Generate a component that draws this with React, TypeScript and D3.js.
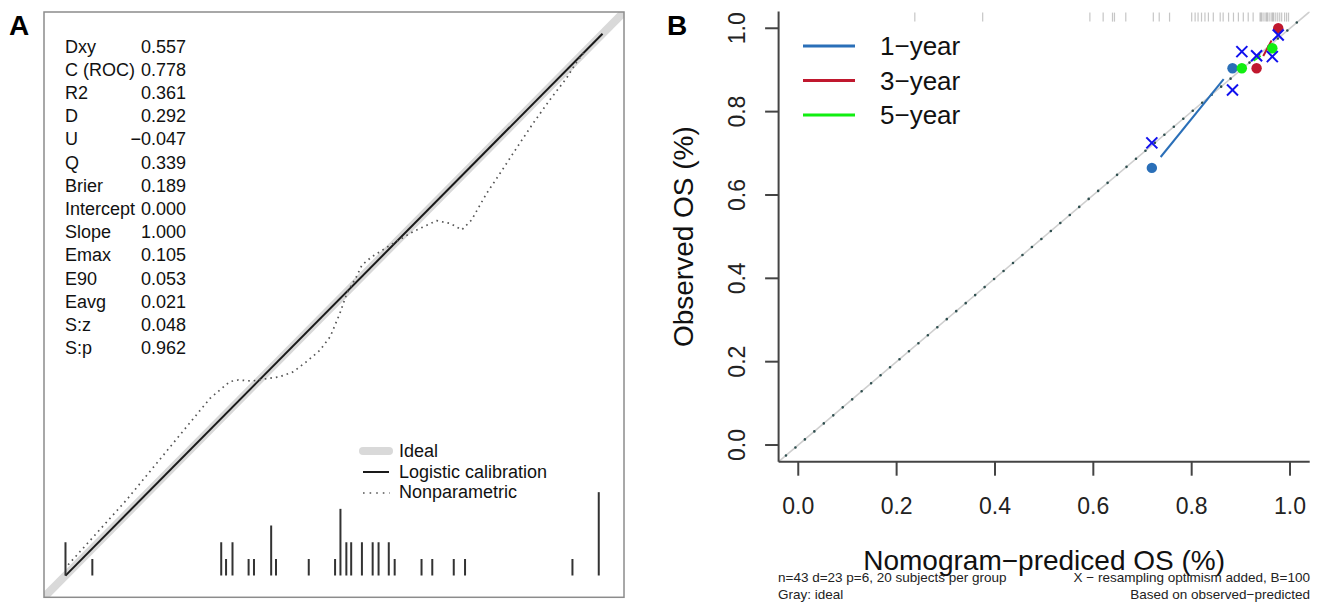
import React from 'react';
import * as d3 from 'd3';

// ---------- Panel A data ----------
const statLabels = ['Dxy', 'C (ROC)', 'R2', 'D', 'U', 'Q', 'Brier', 'Intercept', 'Slope', 'Emax', 'E90', 'Eavg', 'S:z', 'S:p'];
const statValues = ['0.557', '0.778', '0.361', '0.292', '\u22120.047', '0.339', '0.189', '0.000', '1.000', '0.105', '0.053', '0.021', '0.048', '0.962'];

const spikeX = [0.0, 0.05, 0.29, 0.299, 0.311, 0.341, 0.351, 0.383, 0.392, 0.453, 0.502, 0.512, 0.523, 0.532, 0.552, 0.572, 0.583, 0.602, 0.613, 0.663, 0.683, 0.723, 0.744, 0.944, 0.993];
const spikeCount = [2, 1, 2, 1, 2, 1, 1, 3, 1, 1, 1, 4, 2, 2, 2, 2, 2, 2, 1, 1, 1, 1, 1, 1, 5];

const npX = [0.005, 0.114, 0.269, 0.306, 0.322, 0.347, 0.365, 0.399, 0.424, 0.449, 0.474, 0.493, 0.511, 0.524, 0.542, 0.552, 0.570, 0.586, 0.610, 0.648, 0.691, 0.716, 0.738, 0.756, 0.784, 0.809, 0.840, 0.871, 0.902, 0.933, 0.952, 0.967];
const npY = [0.020, 0.140, 0.327, 0.358, 0.361, 0.359, 0.362, 0.367, 0.376, 0.395, 0.416, 0.441, 0.484, 0.521, 0.552, 0.573, 0.588, 0.598, 0.613, 0.635, 0.655, 0.650, 0.638, 0.656, 0.705, 0.742, 0.789, 0.835, 0.878, 0.918, 0.948, 0.967];

const logisticX = [0, 1];
const logisticY = [0, 1];
const idealX = [-0.04, 1.04];

const legendA = ['Ideal', 'Logistic calibration', 'Nonparametric'];

// ---------- Panel B data ----------
const rugPred = [0.237, 0.375, 0.593, 0.620, 0.639, 0.643, 0.666, 0.722, 0.734, 0.755, 0.800, 0.807, 0.813, 0.820, 0.827, 0.834, 0.844, 0.858, 0.864, 0.875, 0.885, 0.895, 0.905, 0.915, 0.925, 0.939, 0.941, 0.943, 0.947, 0.951, 0.953, 0.955, 0.959, 0.963, 0.965, 0.967, 0.971, 0.975, 0.979, 0.983, 0.989, 0.993, 0.997];

const seriesNames = ['1\u2212year', '3\u2212year', '5\u2212year'];
const seriesColors = ['#2a6fb8', '#c0182e', '#11ee11'];
const predicted1 = [0.719, 0.883];
const observed1 = [0.665, 0.904];
const corrected1 = [0.725, 0.852];
const predicted3 = [0.932, 0.976];
const observed3 = [0.904, 1.0];
const corrected3 = [0.934, 0.984];
const predicted5 = [0.902, 0.964];
const observed5 = [0.904, 0.952];
const corrected5 = [0.944, 0.932];

const tickValsB = [0, 0.2, 0.4, 0.6, 0.8, 1.0];
const tickLabelsB = ['0.0', '0.2', '0.4', '0.6', '0.8', '1.0'];

const FONT = 'Arial, "Liberation Sans", Helvetica, sans-serif';

export default function App() {
  // Panel A scales
  const xA = d3.scaleLinear().domain([-0.04, 1.04]).range([44, 624]);
  const yA = d3.scaleLinear().domain([-0.04, 1.04]).range([597.3, 12]);
  const hA = d3.scaleLinear().domain([0, 5]).range([0, 0.154]);

  // Panel B scales
  const xB = d3.scaleLinear().domain([-0.04, 1.04]).range([778.6, 1309.7]);
  const yB = d3.scaleLinear().domain([-0.04, 1.04]).range([461.7, 11.6]);

  const lineA = d3.line<[number, number]>().x(d => xA(d[0])).y(d => yA(d[1]));
  const npPath = lineA(npX.map((x, i) => [x, npY[i]]) as [number, number][]) || '';
  const logPath = lineA(logisticX.map((x, i) => [x, logisticY[i]]) as [number, number][]) || '';
  const idealPathA = lineA(idealX.map(x => [x, x]) as [number, number][]) || '';

  const lineB = d3.line<[number, number]>().x(d => xB(d[0])).y(d => yB(d[1]));
  const idealPathB = lineB([[-0.04, -0.04], [1.04, 1.04]]) || '';
  const dotPathB = lineB([[-0.025, -0.025], [1.03, 1.03]]) || '';

  const series = [
    { pred: predicted1, obs: observed1, cor: corrected1 },
    { pred: predicted3, obs: observed3, cor: corrected3 },
    { pred: predicted5, obs: observed5, cor: corrected5 },
  ];

  const gap = 14;
  const statY0 = 52.5;
  const statDy = 23.2;

  return (
    <svg width={1317} height={603} style={{ position: 'absolute', left: 0, top: 0, background: '#fff' }} fontFamily={FONT}>
      <defs>
        <clipPath id="clipA">
          <rect x={44} y={12} width={580} height={585.3} />
        </clipPath>
        <clipPath id="clipB">
          <rect x={778.6} y={11.6} width={531.1} height={450.1} />
        </clipPath>
      </defs>

      {/* ================= Panel A ================= */}
      <text x={9} y={35} fontSize={28} fontWeight="bold" fill="#000">A</text>
      <g clipPath="url(#clipA)">
        <path d={idealPathA} stroke="#d9d9d9" strokeWidth={8} fill="none" />
        <path d={logPath} stroke="#1a1a1a" strokeWidth={2} fill="none" />
        <path d={npPath} stroke="#555" strokeWidth={1.7} strokeDasharray="1.6,4" fill="none" />
        {spikeX.map((x, i) => (
          <line key={i} x1={xA(x)} x2={xA(x)} y1={yA(0)} y2={yA(hA(spikeCount[i]))} stroke="#333" strokeWidth={2} />
        ))}
      </g>
      <rect x={44} y={12} width={580} height={585.3} fill="none" stroke="#8c8c8c" strokeWidth={1.5} />

      {statLabels.map((s, i) => (
        <g key={s}>
          <text x={65} y={statY0 + i * statDy} fontSize={18} fill="#111">{s}</text>
          <text x={186} y={statY0 + i * statDy} fontSize={18} fill="#111" textAnchor="end">{statValues[i]}</text>
        </g>
      ))}

      {/* legend A */}
      <line x1={363} x2={389} y1={451} y2={451} stroke="#d9d9d9" strokeWidth={8} strokeLinecap="round" />
      <line x1={363} x2={389} y1={472} y2={472} stroke="#1a1a1a" strokeWidth={2} />
      <line x1={363} x2={390} y1={493} y2={493} stroke="#555" strokeWidth={1.7} strokeDasharray="1.6,5" />
      {legendA.map((t, i) => (
        <text key={t} x={399} y={457 + i * 20.5} fontSize={18} fill="#111">{t}</text>
      ))}

      {/* ================= Panel B ================= */}
      <text x={667} y={35} fontSize={28} fontWeight="bold" fill="#000">B</text>

      <g clipPath="url(#clipB)">
        <path d={idealPathB} stroke="#cfcfcf" strokeWidth={1.6} fill="none" />
        <path d={dotPathB} stroke="#2f4f4f" strokeWidth={2.6} strokeLinecap="round" strokeDasharray="0,12.4" fill="none" />
      </g>

      {/* top rug */}
      {rugPred.map((p, i) => (
        <line key={i} x1={xB(p)} x2={xB(p)} y1={yB(1.04) + 1} y2={yB(1.04) + 10} stroke="#808080" strokeOpacity={0.45} strokeWidth={1.2} />
      ))}

      {/* series lines (type b, with gaps) */}
      {series.map((s, k) => {
        const x1 = xB(s.pred[0]), y1 = yB(s.obs[0]);
        const x2 = xB(s.pred[1]), y2 = yB(s.obs[1]);
        const dx = x2 - x1, dy = y2 - y1;
        const len = Math.sqrt(dx * dx + dy * dy);
        if (len <= 2 * gap) return null;
        const ux = dx / len, uy = dy / len;
        return (
          <line key={k} x1={x1 + ux * gap} y1={y1 + uy * gap} x2={x2 - ux * gap} y2={y2 - uy * gap}
            stroke={seriesColors[k]} strokeWidth={2} />
        );
      })}

      {/* observed points */}
      {series.map((s, k) => s.pred.map((p, j) => (
        <circle key={`${k}-${j}`} cx={xB(p)} cy={yB(s.obs[j])} r={5.2} fill={seriesColors[k]} />
      )))}

      {/* optimism-corrected X marks */}
      {series.map((s, k) => s.pred.map((p, j) => {
        const cx = xB(p), cy = yB(s.cor[j]);
        const r = 5.5;
        return (
          <g key={`x${k}-${j}`} stroke="#1010ee" strokeWidth={2}>
            <line x1={cx - r} y1={cy - r} x2={cx + r} y2={cy + r} />
            <line x1={cx - r} y1={cy + r} x2={cx + r} y2={cy - r} />
          </g>
        );
      }))}

      {/* axes */}
      <line x1={xB(-0.04)} x2={xB(-0.04)} y1={yB(1.04)} y2={yB(-0.04)} stroke="#444" strokeWidth={2} />
      <line x1={xB(-0.04)} x2={xB(1.04)} y1={yB(-0.04)} y2={yB(-0.04)} stroke="#444" strokeWidth={2} />
      {tickValsB.map((v, i) => (
        <g key={`tx${i}`}>
          <line x1={xB(v)} x2={xB(v)} y1={yB(-0.04)} y2={yB(-0.04) + 14} stroke="#444" strokeWidth={2} />
          <text x={xB(v)} y={514} fontSize={23} textAnchor="middle" fill="#222">{tickLabelsB[i]}</text>
        </g>
      ))}
      {tickValsB.map((v, i) => (
        <g key={`ty${i}`}>
          <line x1={xB(-0.04) - 13.5} x2={xB(-0.04)} y1={yB(v)} y2={yB(v)} stroke="#444" strokeWidth={2} />
          <text transform={`translate(745,${yB(v)}) rotate(-90)`} fontSize={23} textAnchor="middle" fill="#222">{tickLabelsB[i]}</text>
        </g>
      ))}

      <text transform={`translate(693,${(yB(1.04) + yB(-0.04)) / 2}) rotate(-90)`} fontSize={28} textAnchor="middle" fill="#111">Observed OS (%)</text>
      <text x={(xB(-0.04) + xB(1.04)) / 2} y={570} fontSize={28} textAnchor="middle" fill="#111">Nomogram{'\u2212'}prediced OS (%)</text>

      {/* legend B */}
      {seriesNames.map((n, i) => (
        <g key={n}>
          <line x1={803} x2={855} y1={46 + i * 34.5} y2={46 + i * 34.5} stroke={seriesColors[i]} strokeWidth={3} />
          <text x={880} y={55 + i * 34.5} fontSize={26} fill="#111">{n}</text>
        </g>
      ))}

      {/* footnotes */}
      <text x={778} y={582} fontSize={13.5} fill="#222">n=43 d=23 p=6, 20 subjects per group</text>
      <text x={778} y={599} fontSize={13.5} fill="#222">Gray: ideal</text>
      <text x={1310} y={582} fontSize={13.5} fill="#222" textAnchor="end">X {'\u2212'} resampling optimism added, B=100</text>
      <text x={1310} y={599} fontSize={13.5} fill="#222" textAnchor="end">Based on observed{'\u2212'}predicted</text>
    </svg>
  );
}
